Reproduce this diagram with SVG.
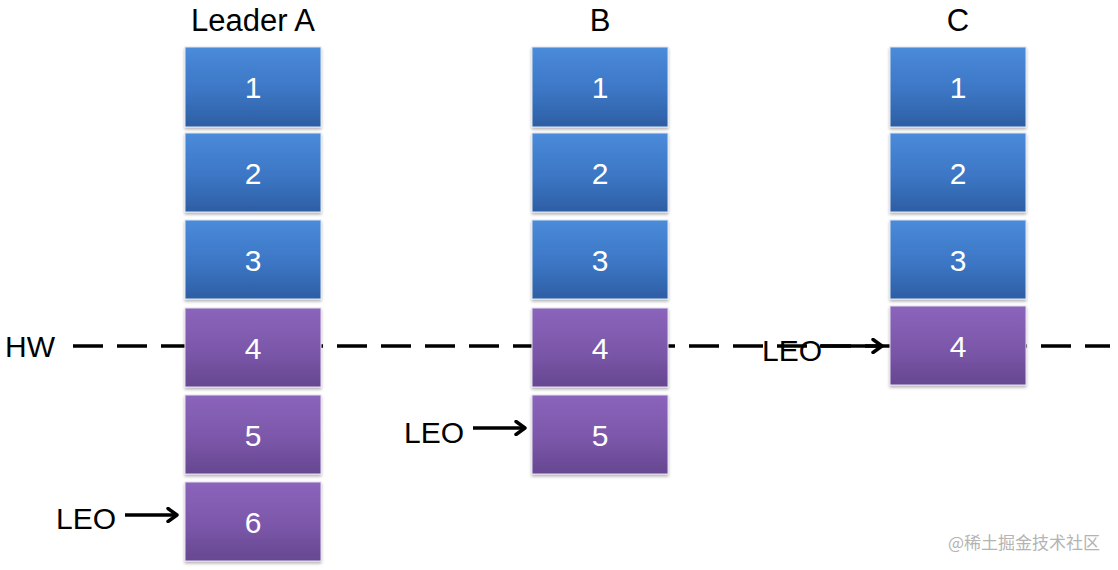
<svg xmlns="http://www.w3.org/2000/svg" width="1118" height="570" viewBox="0 0 1118 570">
<defs>
<linearGradient id="gblue" x1="0" y1="0" x2="0" y2="1"><stop offset="0" stop-color="#4a8bda"/><stop offset="0.55" stop-color="#3c76c4"/><stop offset="1" stop-color="#2d5ea3"/></linearGradient>
<linearGradient id="gpur" x1="0" y1="0" x2="0" y2="1"><stop offset="0" stop-color="#8b64bb"/><stop offset="0.55" stop-color="#7b57a9"/><stop offset="1" stop-color="#664790"/></linearGradient>
<filter id="sh" x="-10%" y="-10%" width="120%" height="125%"><feDropShadow dx="0" dy="2" stdDeviation="1.5" flood-color="#000" flood-opacity="0.3"/></filter>
<marker id="ah" markerWidth="14" markerHeight="16" refX="11" refY="8" orient="auto" markerUnits="userSpaceOnUse"><path d="M2,1.5 L11,8 L2,14.5" fill="none" stroke="#000" stroke-width="3.4" stroke-linecap="round" stroke-linejoin="round"/></marker>
</defs>
<style>
.t{font-family:"Liberation Sans",Arial,sans-serif;fill:#000;font-size:30px}
.n{font-family:"Liberation Sans",Arial,sans-serif;fill:#fff;font-size:30px;text-anchor:middle}
.b{fill:url(#gblue);stroke:#dde6f2;stroke-width:1;filter:url(#sh)}
.p{fill:url(#gpur);stroke:#e6def0;stroke-width:1;filter:url(#sh)}
.ar{stroke:#000;stroke-width:3.6;fill:none;marker-end:url(#ah)}
.dash{stroke:#000;stroke-width:3.5;stroke-dasharray:30 14;fill:none}
</style>
<rect width="1118" height="570" fill="#fff"/>
<g id="connectors">
<line class="dash" x1="73" y1="346" x2="1110" y2="346"/>
</g>
<g id="headers">
<text class="t" x="253" y="31" text-anchor="middle" style="font-size:31px">Leader A</text>
<text class="t" x="600" y="31" text-anchor="middle" style="font-size:31px">B</text>
<text class="t" x="958" y="31" text-anchor="middle" style="font-size:31px">C</text>
</g>
<g id="A1"><rect class="b" x="185" y="47" width="136" height="80"/><text class="n" x="253" y="98">1</text></g>
<g id="A2"><rect class="b" x="185" y="133" width="136" height="79"/><text class="n" x="253" y="184">2</text></g>
<g id="A3"><rect class="b" x="185" y="220" width="136" height="79"/><text class="n" x="253" y="271">3</text></g>
<g id="A4"><rect class="p" x="185" y="308" width="136" height="79"/><text class="n" x="253" y="359">4</text></g>
<g id="A5"><rect class="p" x="185" y="395" width="136" height="79"/><text class="n" x="253" y="446">5</text></g>
<g id="A6"><rect class="p" x="185" y="482" width="136" height="79"/><text class="n" x="253" y="533">6</text></g>
<g id="B1"><rect class="b" x="532" y="47" width="136" height="80"/><text class="n" x="600" y="98">1</text></g>
<g id="B2"><rect class="b" x="532" y="133" width="136" height="79"/><text class="n" x="600" y="184">2</text></g>
<g id="B3"><rect class="b" x="532" y="220" width="136" height="79"/><text class="n" x="600" y="271">3</text></g>
<g id="B4"><rect class="p" x="532" y="308" width="136" height="79"/><text class="n" x="600" y="359">4</text></g>
<g id="B5"><rect class="p" x="532" y="395" width="136" height="79"/><text class="n" x="600" y="446">5</text></g>
<g id="C1"><rect class="b" x="890" y="47" width="136" height="80"/><text class="n" x="958" y="98">1</text></g>
<g id="C2"><rect class="b" x="890" y="133" width="136" height="79"/><text class="n" x="958" y="184">2</text></g>
<g id="C3"><rect class="b" x="890" y="220" width="136" height="79"/><text class="n" x="958" y="271">3</text></g>
<g id="C4"><rect class="p" x="890" y="306" width="136" height="79"/><text class="n" x="958" y="357">4</text></g>
<g id="labels">
<text class="t" x="5" y="357">HW</text>
<text class="t" x="56" y="529">LEO</text>
<text class="t" x="404" y="443">LEO</text>
<text class="t" x="762" y="361">LEO</text>
</g>
<g id="arrows">
<line class="ar" x1="125" y1="515" x2="177" y2="515"/>
<line class="ar" x1="473" y1="428" x2="525" y2="428"/>
<line class="ar" x1="820" y1="346" x2="882" y2="346"/>
</g>
<text x="1100" y="549" text-anchor="end" style="font-family:'Noto Sans CJK SC',sans-serif;font-size:17px;fill:#b4b4b4">@稀土掘金技术社区</text>
</svg>
